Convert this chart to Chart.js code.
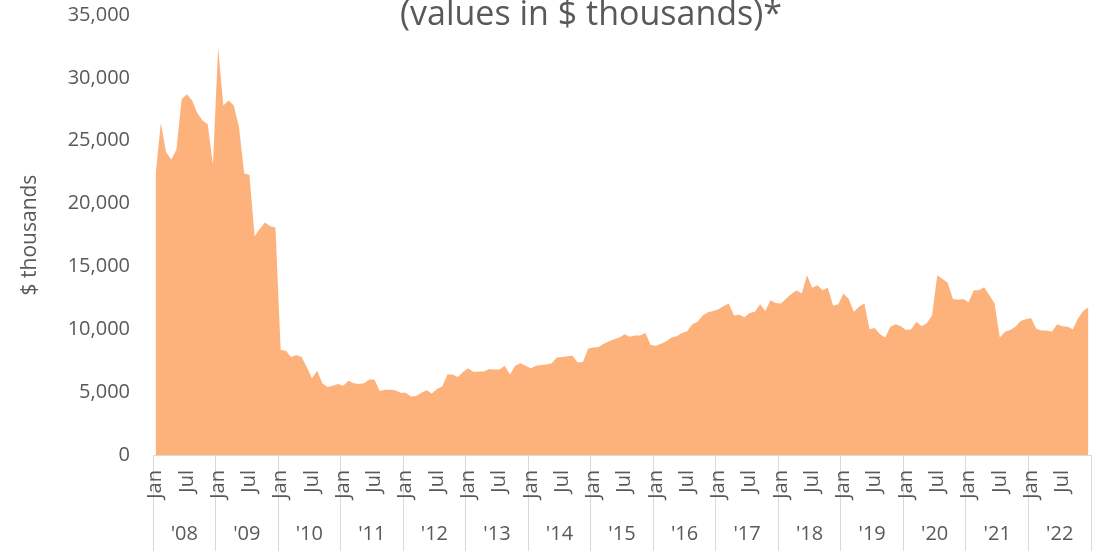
<!DOCTYPE html>
<html><head><meta charset="utf-8">
<script src="https://cdn.jsdelivr.net/npm/chart.js@4"></script>
<style>html,body{margin:0;padding:0;background:#fff}#wrap{width:1099px;height:551px}</style>
</head><body><div id="wrap"><canvas id="c"></canvas></div>
<script>
const monthNames = ['Jan','Feb','Mar','Apr','May','Jun','Jul','Aug','Sep','Oct','Nov','Dec'];
const yearLabels = ["'08","'09","'10","'11","'12","'13","'14","'15","'16","'17","'18","'19","'20","'21","'22"];
const yTickValues = [0, 5000, 10000, 15000, 20000, 25000, 30000, 35000];
const titleText = '(values in $ thousands)*';
const yAxisTitle = '$ thousands';

const v2008 = [22300, 26400, 24100, 23500, 24300, 28300, 28700, 28200, 27200, 26600, 26300, 23100];
const v2009 = [32400, 27800, 28200, 27800, 26100, 22400, 22300, 17400, 18000, 18500, 18200, 18100];
const v2010 = [8350, 8300, 7800, 7950, 7800, 7000, 6100, 6700, 5700, 5400, 5500, 5650];
const v2011 = [5500, 5900, 5700, 5650, 5700, 6000, 6000, 5100, 5200, 5200, 5150, 4950];
const v2012 = [4950, 4650, 4700, 4950, 5150, 4900, 5250, 5450, 6400, 6400, 6200, 6600];
const v2013 = [6900, 6600, 6650, 6650, 6850, 6800, 6800, 7100, 6400, 7100, 7300, 7100];
const v2014 = [6900, 7100, 7150, 7200, 7300, 7750, 7800, 7850, 7900, 7350, 7400, 8450];
const v2015 = [8550, 8600, 8850, 9050, 9200, 9350, 9600, 9400, 9500, 9500, 9700, 8750];
const v2016 = [8700, 8850, 9050, 9350, 9450, 9700, 9850, 10400, 10600, 11100, 11350, 11450];
const v2017 = [11600, 11850, 12050, 11100, 11150, 10950, 11300, 11400, 12000, 11450, 12300, 12100];
const v2018 = [12050, 12450, 12800, 13100, 12850, 14300, 13300, 13500, 13100, 13300, 11900, 12000];
const v2019 = [12850, 12400, 11400, 11800, 12050, 10000, 10100, 9600, 9350, 10200, 10400, 10250];
const v2020 = [9950, 10000, 10600, 10250, 10500, 11100, 14300, 14000, 13700, 12400, 12350, 12400];
const v2021 = [12150, 13100, 13100, 13350, 12700, 12050, 9350, 9800, 9950, 10200, 10650, 10800];
const v2022 = [10900, 10050, 9900, 9900, 9800, 10400, 10250, 10200, 10000, 10850, 11450, 11750];

const values = [].concat(v2008, v2009, v2010, v2011, v2012, v2013, v2014, v2015,
  v2016, v2017, v2018, v2019, v2020, v2021, v2022);
const labels = [];
yearLabels.forEach(y => monthNames.forEach(m => labels.push(m + ' ' + y)));

const fontFamily = "'Open Sans', sans-serif";
const textColor = '#595959';
const lineColor = '#D9D9D9';
const fillColor = '#FDB27B';

const titlePlugin = {
  id: 'topTitle',
  afterDraw(chart) {
    const ctx = chart.ctx;
    ctx.save();
    ctx.font = '34px ' + fontFamily;
    ctx.fillStyle = textColor;
    ctx.textAlign = 'center';
    ctx.textBaseline = 'alphabetic';
    ctx.fillText(titleText, 591, 25);
    ctx.restore();
  }
};

new Chart(document.getElementById('c'), {
  type: 'line',
  data: {
    labels: labels,
    datasets: [{
      data: values,
      fill: 'origin',
      backgroundColor: fillColor,
      borderColor: fillColor,
      borderWidth: 0,
      pointRadius: 0,
      tension: 0,
      xAxisID: 'x',
      yAxisID: 'y'
    }]
  },
  options: {
    responsive: true,
    maintainAspectRatio: false,
    animation: false,
    layout: { padding: { top: 15, right: 8, left: 0, bottom: 0 } },
    plugins: { legend: { display: false }, tooltip: { enabled: false } },
    scales: {
      x: {
        type: 'category',
        position: 'bottom',
        offset: true,
        weight: 0,
        grid: {
          offset: true,
          drawOnChartArea: false,
          drawTicks: true,
          tickLength: 96,
          color: (c) => (c.index === undefined || c.index % 12 === 0) ? lineColor : 'rgba(0,0,0,0)'
        },
        border: { display: true, color: lineColor, width: 1 },
        ticks: {
          autoSkip: false,
          minRotation: 90,
          maxRotation: 90,
          padding: -81,
          color: textColor,
          font: { family: fontFamily, size: 20 },
          callback: (v, i) => { const m = i % 12; return m === 0 ? monthNames[0] : (m === 6 ? monthNames[6] : ''); }
        },
        afterFit: (s) => { s.height = 46; s.paddingLeft = 0; s.paddingRight = 0; }
      },
      x2: {
        type: 'category',
        labels: yearLabels,
        position: 'bottom',
        offset: true,
        weight: 1,
        grid: { display: false, drawTicks: false },
        border: { display: false },
        ticks: { padding: 21, color: textColor, font: { family: fontFamily, size: 20 } },
        afterFit: (s) => { s.height = 50; s.paddingLeft = 0; s.paddingRight = 0; }
      },
      y: {
        min: 0,
        max: 35000,
        afterBuildTicks: (s) => { s.ticks = yTickValues.map(v => ({ value: v })); },
        afterFit: (s) => { s.width = 153; s.paddingTop = 0; s.paddingBottom = 0; },
        grid: { display: false },
        border: { display: false },
        ticks: {
          padding: 15,
          color: textColor,
          font: { family: fontFamily, size: 20 },
          callback: (v) => Number(v).toLocaleString('en-US')
        },
        title: {
          display: true,
          text: yAxisTitle,
          color: textColor,
          font: { family: fontFamily, size: 21 },
          padding: { top: 17, bottom: 0 }
        }
      }
    }
  },
  plugins: [titlePlugin]
});
</script>
</body></html>
